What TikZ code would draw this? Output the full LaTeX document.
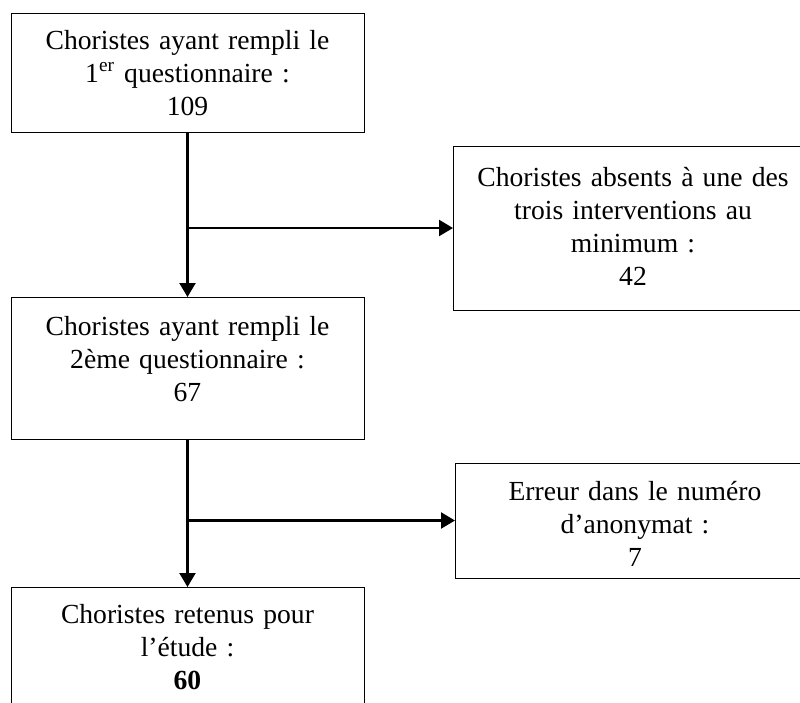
\documentclass[tikz,border=0pt]{standalone}
\usepackage{fontspec}
\setmainfont{Liberation Serif}
\usepackage{tikz}
\usetikzlibrary{positioning}
\usetikzlibrary{arrows.meta}
\tikzset{
    flow chart/.style={
            x=0.5pt,y=-0.5pt,
            box/.style={draw, line width=0.5pt, inner sep=0pt, outer sep=0pt,
                    text width=176.5pt, align=center,
                    font=\fontsize{13.8}{16.5}\selectfont},
            side box/.style={box, text width=180pt},
            arrow/.style={line width=1.2pt, -{Triangle[length=7pt,width=8pt]}}
        }
    }

\begin{document}
\begin{tikzpicture}[flow chart]
        \useasboundingbox (0,0) rectangle (800,703);
        \clip (0,0) rectangle (800,703);

        \node (q1) [box, anchor=north west, text height=18pt, text depth=41.5pt] at (11,13)
            {Choristes ayant rempli le\\1\textsuperscript{er} questionnaire~:\\109};
        \node (q2) [box, below=82.5pt of q1, text height=19pt, text depth=52pt]
            {Choristes ayant rempli le\\2ème questionnaire~:\\67};
        \node (final) [box, below=74pt of q2, text height=18pt, text depth=70pt]
            {Choristes retenus pour\\l’étude~:\\\textbf{60}};
        \node (absent) [side box, anchor=north west, text height=20pt, text depth=62pt] at (453,146)
            {Choristes absents à une des\\trois interventions au\\minimum~:\\42};
        \node (error) [side box, anchor=north west, text height=18.5pt, text depth=39pt] at (455,463)
            {Erreur dans le numéro\\d’anonymat~:\\7};

        \coordinate (split1) at (q1.south |- absent.west);
        \coordinate (split2) at (q2.south |- error.west);

        \draw [arrow] (q1) -- (q2);
        \draw [arrow] (split1) -- (absent.west);
        \draw [arrow] (q2) -- (final);
        \draw [arrow] (split2) -- (error.west);
    \end{tikzpicture}
\end{document}
